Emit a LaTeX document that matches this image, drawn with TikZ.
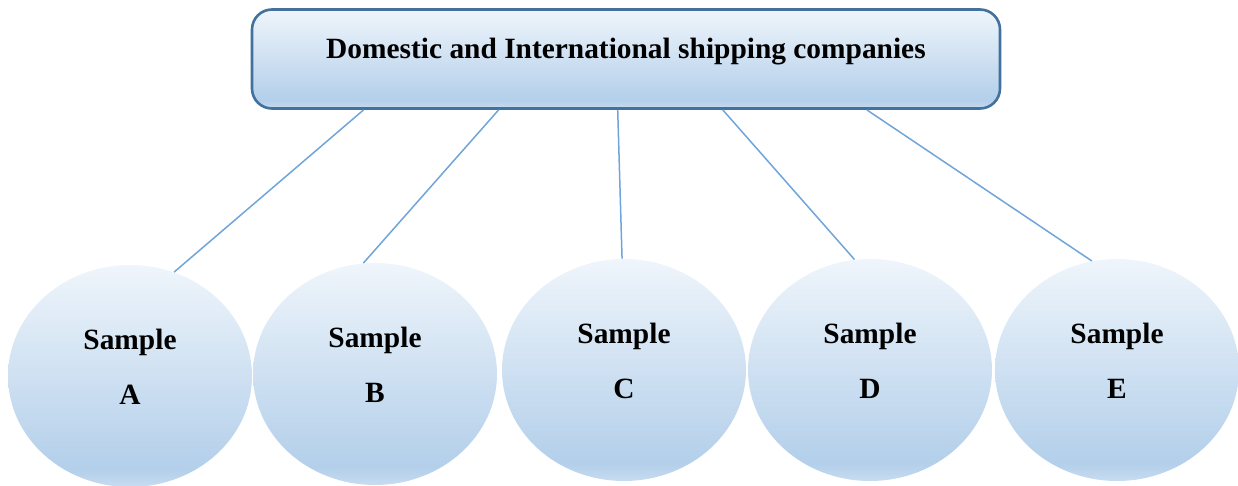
\documentclass[tikz,border=0pt]{standalone}
\usepackage{fontspec}
\setmainfont{Liberation Serif}
\definecolor{sbTop}{HTML}{EFF5FB}
\definecolor{sbMid}{HTML}{B3CFEA}
\definecolor{sbBot}{HTML}{C7DCF0}
\definecolor{boxEdge}{HTML}{41719C}
\definecolor{linkBlue}{HTML}{6FA5DA}
% soft vertical blue gradient, light at the top, darkest near the bottom
\pgfdeclareverticalshading{softblue}{100bp}{color(0bp)=(sbBot); color(25bp)=(sbBot); color(29bp)=(sbMid); color(75bp)=(sbTop); color(100bp)=(sbTop)}
\tikzset{
  headbox/.style={shape=rectangle, rounded corners=10pt, draw=boxEdge, line width=1.3pt,
    shading=softblue, minimum width=374pt, minimum height=49.5pt, inner sep=0pt,
    font=\bfseries\fontsize{14.7pt}{18pt}\selectfont, text height=10pt, text depth=10pt},
  samplenode/.style={shape=ellipse, shading=softblue, minimum width=122pt, minimum height=111pt,
    inner sep=0pt, align=center, font=\bfseries\fontsize{14.7pt}{28pt}\selectfont,
    text height=31pt, text depth=2pt},
  link/.style={draw=linkBlue, line width=0.75pt}
}
\usetikzlibrary{shapes.geometric}
\begin{document}
\begin{tikzpicture}[x=0.5pt, y=-0.5pt]
  \useasboundingbox (0,0) rectangle (1238,486);
  % heading box
  \node[headbox] (T) at (626,59) {Domestic and International shipping companies};
  % the five samples
  \node[samplenode] (A) at (130,376) {Sample\\A};
  \node[samplenode] (B) at (375,374) {Sample\\B};
  \node[samplenode] (C) at (624,370) {Sample\\C};
  \node[samplenode] (D) at (870,370) {Sample\\D};
  \node[samplenode] (E) at (1117,370) {Sample\\E};
  % connectors from the heading to each sample
  \draw[link] ([xshift=56.5pt]T.south west) -- (A.67);
  \draw[link] ([xshift=124pt]T.south west) -- (B.96);
  \draw[link] ([xshift=183.5pt]T.south west) -- (C.91);
  \draw[link] ([xshift=236pt]T.south west) -- (D.98);
  \draw[link] ([xshift=308pt]T.south west) -- (E.103);
\end{tikzpicture}
\end{document}
